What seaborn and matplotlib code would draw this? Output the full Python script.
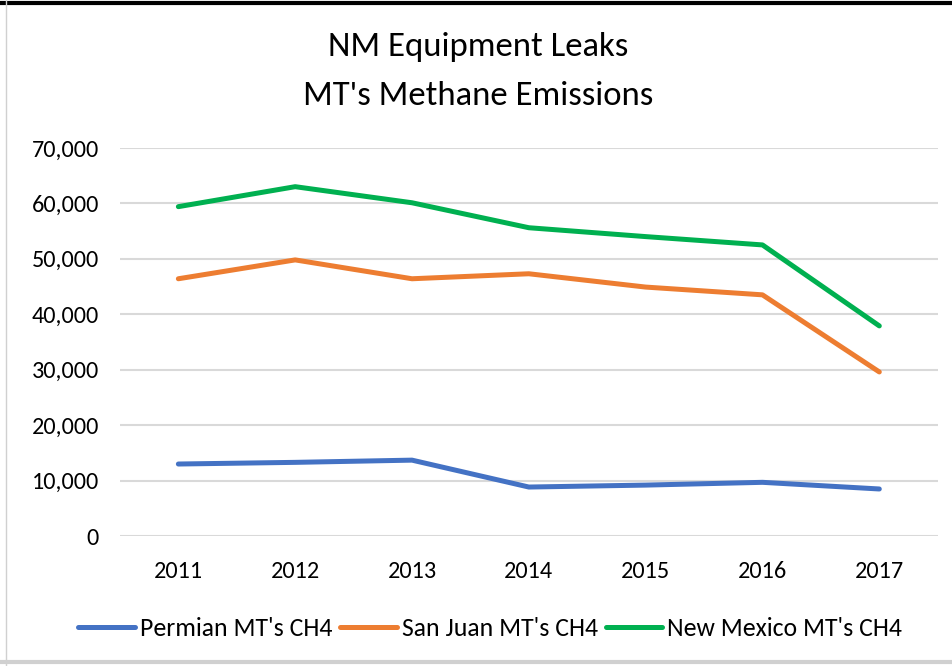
import pandas as pd
import numpy as np
import matplotlib
matplotlib.use("Agg")
import matplotlib.pyplot as plt
import seaborn as sns
from matplotlib.ticker import FuncFormatter

years = ["2011", "2012", "2013", "2014", "2015", "2016", "2017"]
permian = [13000, 13300, 13700, 8850, 9200, 9700, 8500]
san_juan = [46400, 49800, 46400, 47300, 44900, 43500, 29600]
new_mexico = [59400, 63000, 60100, 55600, 54000, 52500, 37900]

series_names = ["Permian MT's CH4", "San Juan MT's CH4", "New Mexico MT's CH4"]
colors = ["#4472C4", "#ED7D31", "#00B050"]

# long form table for seaborn
df = pd.DataFrame({
    "year": years * 3,
    "value": permian + san_juan + new_mexico,
    "series": np.repeat(series_names, len(years)),
})

sns.set_style("white")
plt.rcParams['font.family'] = ['Carlito', 'Liberation Sans Narrow', 'Lato', 'DejaVu Sans']
plt.rcParams['text.color'] = 'black'

fig = plt.figure(figsize=(9.52, 6.66), dpi=100)
ax = fig.add_axes([0.126, 0.195, 0.859, 0.583])

sns.lineplot(data=df, x="year", y="value", hue="series", palette=colors,
             linewidth=3.6, ax=ax, sort=False, solid_capstyle='round')

ax.set_ylim(0, 70000)
ax.set_xlim(-0.5, 6.5)
ax.set_yticks(np.arange(0, 70001, 10000))
ax.yaxis.set_major_formatter(FuncFormatter(lambda v, p: f"{int(v):,}"))
ax.grid(axis='y', color='#d9d9d9', linewidth=1.5)
ax.set_axisbelow(True)
for s in ax.spines.values():
    s.set_visible(False)
ax.tick_params(axis='both', length=0, labelsize=17.5, colors='black')
ax.tick_params(axis='x', pad=18)
ax.tick_params(axis='y', pad=15)
ax.set_xlabel("")
ax.set_ylabel("")

handles, labels = ax.get_legend_handles_labels()
leg = ax.legend(handles, labels, loc='center', bbox_to_anchor=(0.515, 0.056),
                bbox_transform=fig.transFigure, ncol=3, frameon=False,
                fontsize=18.5, handlelength=2.2, handletextpad=0.2, columnspacing=0.3)
for t in leg.get_texts():
    t.set_color('black')

fig.text(0.502, 0.93, "NM Equipment Leaks", ha='center', va='center', fontsize=25)
fig.text(0.502, 0.856, "MT's Methane Emissions", ha='center', va='center', fontsize=25)

# chart border
fig.add_artist(plt.Line2D([0, 1], [0.996, 0.996], transform=fig.transFigure, color='black', linewidth=3))
fig.add_artist(plt.Line2D([0.006, 0.006], [0, 1], transform=fig.transFigure, color='#d0d0d0', linewidth=1))
fig.add_artist(plt.Line2D([0, 1], [0.006, 0.006], transform=fig.transFigure, color='#d0d0d0', linewidth=3))

fig.savefig("out.png", dpi=100)
